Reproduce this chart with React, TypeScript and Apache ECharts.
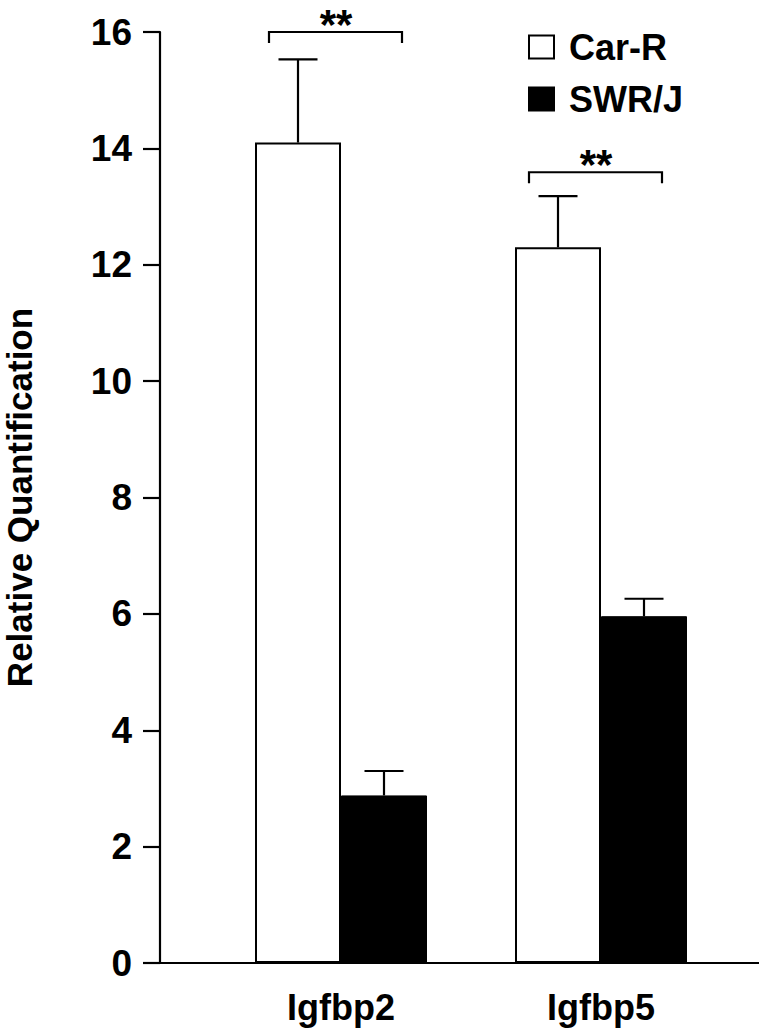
import React, { useEffect, useRef } from "react";
import * as echarts from "echarts";

const categories = ["Igfbp2", "Igfbp5"];
const seriesNames = ["Car-R", "SWR/J"];
const carR = [14.1, 12.3];
const carRErr = [1.43, 0.88];
const swrj = [2.88, 5.96];
const swrjErr = [0.42, 0.3];
const sigLabels = ["**", "**"];
const bracketLevels = [16.0, 13.59];
const yTicks = { min: 0, max: 16, interval: 2 };

const FONT = "'Liberation Sans', Arial, Helvetica, sans-serif";

export default function App() {
  const ref = useRef<HTMLDivElement>(null);

  useEffect(() => {
    if (!ref.current) return;
    const chart = echarts.init(ref.current, null, { renderer: "svg" });
    const barW = 86;
    const half = barW / 2;
    const capHalf = 19.5;

    const errRender = (offset: number) => (params: any, api: any) => {
      const idx = api.value(0);
      const mean = api.value(1);
      const err = api.value(2);
      const base = api.coord([idx, mean]);
      const top = api.coord([idx, mean + err]);
      const x = base[0] + offset;
      const style = { stroke: "#000", lineWidth: 2.2 };
      return {
        type: "group",
        children: [
          { type: "line", shape: { x1: x, y1: base[1], x2: x, y2: top[1] }, style },
          { type: "line", shape: { x1: x - capHalf, y1: top[1], x2: x + capHalf, y2: top[1] }, style },
        ],
      };
    };

    const bracketRender = (params: any, api: any) => {
      const idx = api.value(0);
      const lvl = api.value(1);
      const p = api.coord([idx, lvl]);
      const xl = p[0] - 72;
      const xr = p[0] + 61;
      const y = p[1];
      const leg = 11;
      return {
        type: "group",
        children: [
          {
            type: "polyline",
            shape: { points: [[xl, y + leg], [xl, y], [xr, y], [xr, y + leg]] },
            style: { stroke: "#000", lineWidth: 2.2, fill: "none" },
          },
          {
            type: "text",
            style: {
              x: p[0] - 5,
              y: y - 8,
              text: sigLabels[params.dataIndex],
              fill: "#000",
              font: `bold 42px ${FONT}`,
              align: "center",
              verticalAlign: "middle",
            },
          },
        ],
      };
    };

    chart.setOption({
      animation: false,
      textStyle: { fontFamily: FONT },
      grid: [
        { left: 211, right: 28, top: 32, bottom: 67, outerBoundsMode: "none", containLabel: false },
        { left: 160, right: 0, top: 32, bottom: 67, outerBoundsMode: "none", containLabel: false },
      ],
      legend: {
        data: seriesNames,
        orient: "vertical",
        left: 528,
        top: 29,
        padding: 0,
        itemWidth: 25,
        itemHeight: 23,
        itemGap: 16,
        icon: "rect",
        textStyle: {
          fontSize: 36,
          fontWeight: "bold",
          color: "#000",
          fontFamily: FONT,
          lineHeight: 23,
          padding: [0, 0, 0, 10],
        },
      },
      xAxis: [
        {
          type: "category",
          gridIndex: 0,
          data: categories,
          axisLine: { show: false },
          axisTick: { show: false },
          axisLabel: {
            fontSize: 36,
            fontWeight: "bold",
            color: "#000",
            margin: 26,
            fontFamily: FONT,
          },
        },
        {
          type: "value",
          gridIndex: 1,
          min: 0,
          max: 1,
          axisLine: { show: true, lineStyle: { color: "#000", width: 2.2 } },
          axisTick: { show: false },
          axisLabel: { show: false },
          splitLine: { show: false },
        },
      ],
      yAxis: [
        {
          type: "value",
          gridIndex: 0,
          min: yTicks.min,
          max: yTicks.max,
          interval: yTicks.interval,
          show: false,
        },
        {
          type: "value",
          gridIndex: 1,
          min: yTicks.min,
          max: yTicks.max,
          interval: yTicks.interval,
          name: "Relative Quantification",
          nameLocation: "middle",
          nameGap: 125,
          nameTextStyle: {
            fontSize: 35,
            fontWeight: "bold",
            color: "#000",
            fontFamily: FONT,
            lineHeight: 32,
          },
          axisLine: { show: true, lineStyle: { color: "#000", width: 2.2 } },
          axisTick: { show: true, length: 17, lineStyle: { color: "#000", width: 2.2 } },
          axisLabel: { fontSize: 37, fontWeight: "bold", color: "#000", margin: 28, fontFamily: FONT },
          splitLine: { show: false },
        },
      ],
      series: [
        {
          name: seriesNames[0],
          type: "bar",
          xAxisIndex: 0,
          yAxisIndex: 0,
          data: carR,
          barWidth: barW,
          barGap: "0%",
          itemStyle: { color: "#fff", borderColor: "#000", borderWidth: 2 },
        },
        {
          name: seriesNames[1],
          type: "bar",
          xAxisIndex: 0,
          yAxisIndex: 0,
          data: swrj,
          barWidth: barW,
          barGap: "0%",
          itemStyle: { color: "#000", borderColor: "#000", borderWidth: 1 },
        },
        {
          type: "custom",
          xAxisIndex: 0,
          yAxisIndex: 0,
          renderItem: errRender(-half),
          data: categories.map((_, i) => [i, carR[i], carRErr[i]]),
          z: 5,
        },
        {
          type: "custom",
          xAxisIndex: 0,
          yAxisIndex: 0,
          renderItem: errRender(half),
          data: categories.map((_, i) => [i, swrj[i], swrjErr[i]]),
          z: 5,
        },
        {
          type: "custom",
          xAxisIndex: 0,
          yAxisIndex: 0,
          renderItem: bracketRender,
          data: categories.map((_, i) => [i, bracketLevels[i]]),
          z: 5,
        },
      ],
    });

    return () => chart.dispose();
  }, []);

  return (
    <div
      ref={ref}
      style={{ position: "absolute", left: 0, top: 0, width: 759, height: 1030, background: "#fff" }}
    />
  );
}
